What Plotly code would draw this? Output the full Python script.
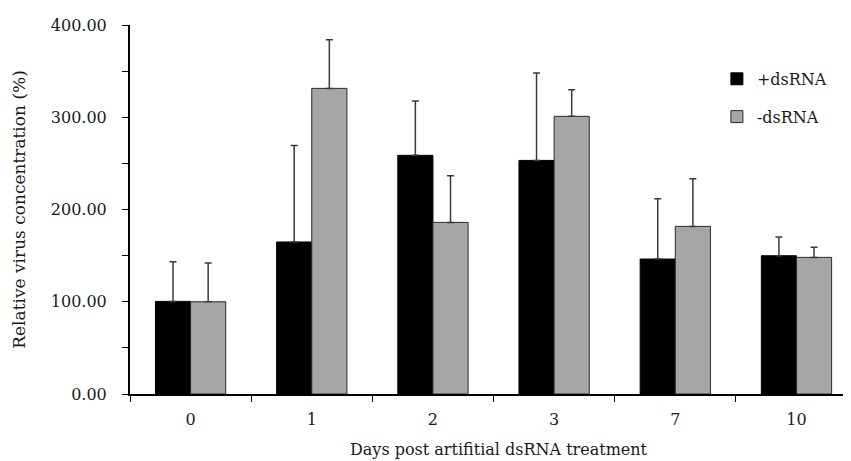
import plotly.graph_objects as go

days = ["0", "1", "2", "3", "7", "10"]
plus_mean = [100.4, 164.8, 258.7, 253.2, 146.3, 149.9]
plus_upper = [143.4, 269.5, 317.6, 348.0, 211.7, 170.2]
minus_mean = [100.0, 331.3, 186.0, 301.0, 181.7, 148.1]
minus_upper = [142.0, 384.0, 236.6, 329.9, 233.4, 159.0]

y_ticks = [0, 100, 200, 300, 400]
x_title = "Days post artifitial dsRNA treatment"
y_title = "Relative virus concentration (%)"

plus_err = [u - m for u, m in zip(plus_upper, plus_mean)]
minus_err = [u - m for u, m in zip(minus_upper, minus_mean)]

FONT = "DejaVu Serif"
FS = 16

fig = go.Figure()
fig.add_trace(go.Bar(
    x=days, y=plus_mean, name="+dsRNA", legendgroup="a",
    marker=dict(color="#000000", line=dict(color="#000000", width=1)),
    error_y=dict(type="data", array=plus_err, arrayminus=[0]*len(days), symmetric=False,
                 color="#3a3a3a", thickness=1.5, width=3.5),
))
fig.add_trace(go.Bar(
    x=days, y=minus_mean, name="-dsRNA", legendgroup="b",
    marker=dict(color="#a6a6a6", line=dict(color="#2a2a2a", width=1)),
    error_y=dict(type="data", array=minus_err, arrayminus=[0]*len(days), symmetric=False,
                 color="#3a3a3a", thickness=1.5, width=3.5),
))

# page body has an 8px margin, so compensate: plot spans page x 130..851, y 25..394
fig.update_layout(
    width=851, height=461,
    margin=dict(l=122, r=8, t=17, b=75),
    paper_bgcolor="white", plot_bgcolor="white",
    font=dict(family=FONT, size=FS, color="#1a1a1a"),
    barmode="group", bargap=0.42, bargroupgap=0,
    showlegend=True,
    legend=dict(x=0.814, y=0.9, xanchor="left", yanchor="top",
                bgcolor="rgba(0,0,0,0)", borderwidth=0,
                tracegroupgap=14, traceorder="grouped",
                font=dict(family=FONT, size=FS)),
    annotations=[dict(text=x_title, xref="paper", yref="paper", x=0.512, y=0,
                      xanchor="center", yanchor="middle", yshift=-55, showarrow=False,
                      font=dict(family=FONT, size=FS))],
)
fig.update_xaxes(
    type="category", range=[-0.5, 5.45], automargin=False,
    showline=True, linecolor="#000000", linewidth=2,
    ticks="outside", tickson="boundaries", ticklen=6, tickcolor="#000000", tickwidth=1,
    ticklabelstandoff=10,
    showgrid=False, zeroline=False,
)
fig.update_yaxes(
    range=[0, 400], tickvals=y_ticks, tickformat=".2f", automargin=False,
    showline=True, linecolor="#000000", linewidth=2,
    ticks="outside", ticklen=6, tickcolor="#000000", tickwidth=1,
    minor=dict(dtick=50, ticks="outside", ticklen=6, tickcolor="#000000", tickwidth=1, showgrid=False),
    ticklabelstandoff=12,
    showgrid=False, zeroline=False,
    title=dict(text=y_title, standoff=21, font=dict(family=FONT, size=17)),
)

fig.write_html("out.html")
